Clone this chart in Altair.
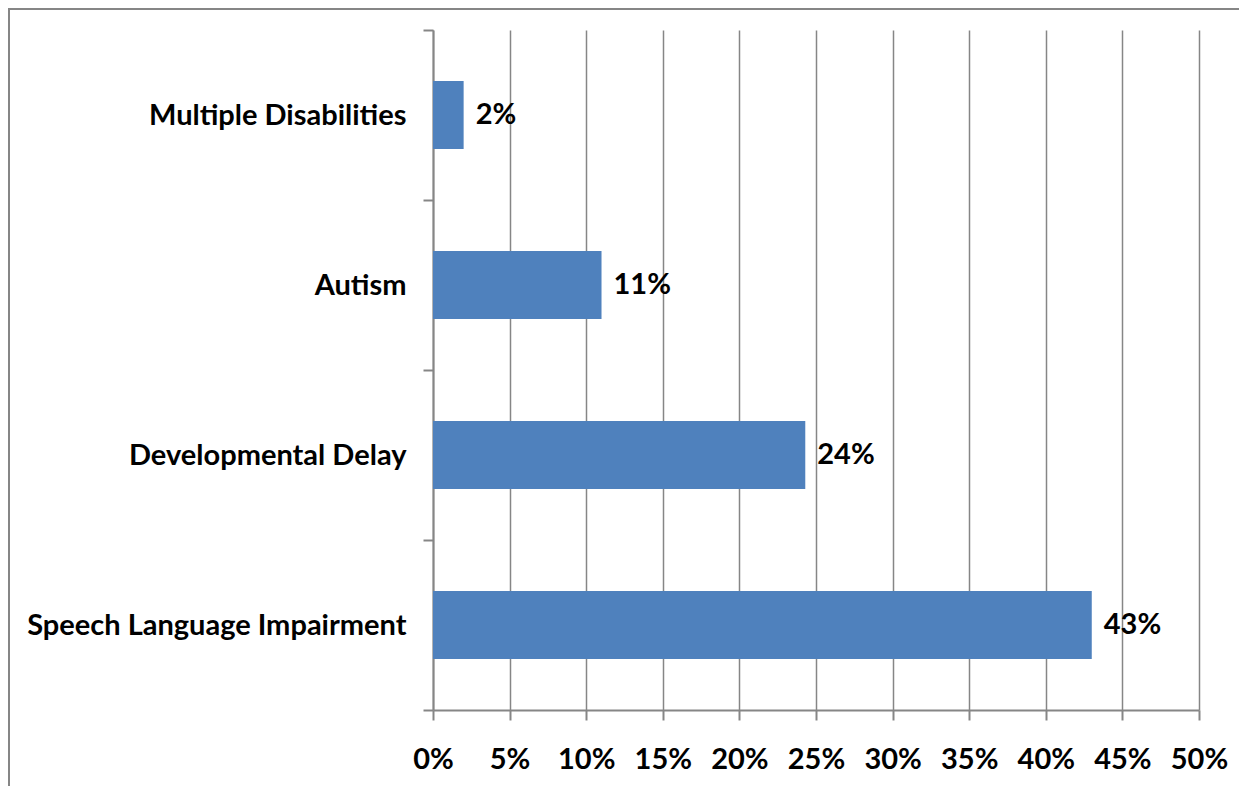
import altair as alt
import pandas as pd

categories = ["Multiple Disabilities", "Autism", "Developmental Delay", "Speech Language Impairment"]
values = [0.02, 0.11, 0.243, 0.43]
x_ticks = [0, 0.05, 0.10, 0.15, 0.20, 0.25, 0.30, 0.35, 0.40, 0.45, 0.50]

df = pd.DataFrame({"category": categories, "value": values})

FONT = "Lato"
FS = 29
GREY = "#868686"

y_enc = alt.Y(
    "category:N",
    sort=categories,
    title=None,
    scale=alt.Scale(paddingInner=0, paddingOuter=0),
    axis=alt.Axis(
        tickBand="extent",
        tickSize=10,
        tickColor=GREY,
        tickWidth=2,
        domainColor=GREY,
        domainWidth=2,
        labelFont=FONT,
        labelFontSize=FS,
        labelFontWeight="bold",
        labelColor="#000000",
        labelPadding=17,
        labelAlign="right",
        labelLimit=600,
        grid=False,
    ),
)

x_enc = alt.X(
    "value:Q",
    title=None,
    scale=alt.Scale(domain=[0, 0.5], nice=False, zero=True),
    axis=alt.Axis(
        values=x_ticks,
        format=".0%",
        tickSize=10,
        tickColor=GREY,
        tickWidth=2,
        domainColor=GREY,
        domainWidth=2,
        grid=True,
        gridColor=GREY,
        gridWidth=1.5,
        labelFont=FONT,
        labelFontSize=FS,
        labelFontWeight="bold",
        labelColor="#000000",
        labelPadding=25,
        labelFlush=False,
    ),
)

bars = alt.Chart(df).mark_bar(color="#4F81BD", height={"band": 0.4}).encode(y=y_enc, x=x_enc)

labels = alt.Chart(df).mark_text(
    align="left", baseline="middle", dx=12, font=FONT, fontSize=FS, fontWeight="bold", color="#000000"
).encode(
    y=alt.Y("category:N", sort=categories),
    x="value:Q",
    text=alt.Text("value:Q", format=".0%"),
)

frame = alt.Chart(df).mark_rect(fill=None, stroke=GREY, strokeWidth=2, clip=False).encode(
    x=alt.value(-424), x2=alt.value(808), y=alt.value(-21), y2=alt.value(800)
)

chart = alt.layer(frame, bars, labels).properties(
    width=766,
    height=680,
    padding={"left": 425, "top": 22, "right": 40, "bottom": 76},
    autosize=alt.AutoSizeParams(type="none"),
).configure_view(stroke=None)

chart.save("out.html", embed_options={"renderer": "svg", "actions": False})
